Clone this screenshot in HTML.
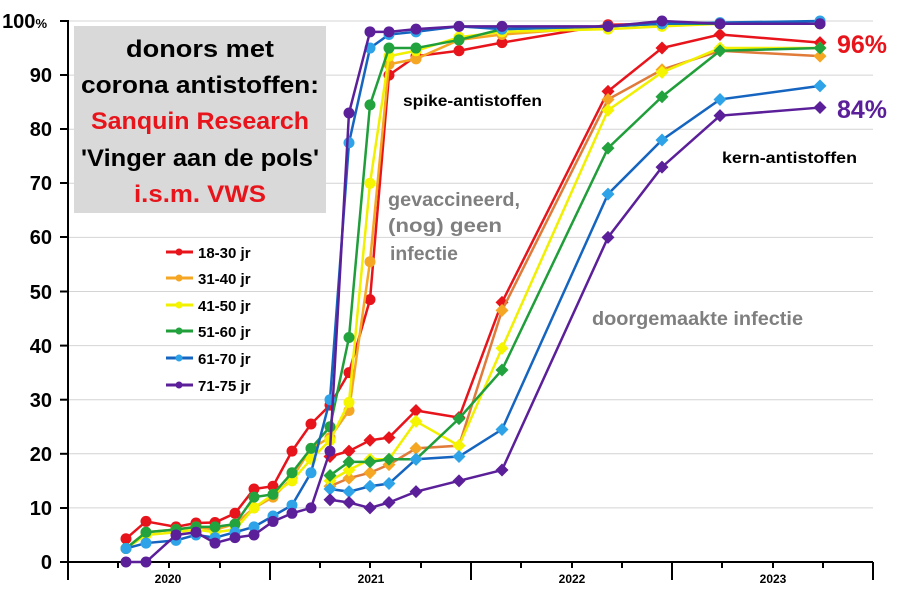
<!DOCTYPE html>
<html><head><meta charset="utf-8"><style>
body{margin:0;background:#fff}
svg{display:block;font-family:"Liberation Sans",sans-serif}
</style></head><body>
<svg id="s" width="908" height="592" viewBox="0 0 908 592" xmlns="http://www.w3.org/2000/svg">
<g stroke="#d4d4d4" stroke-width="1">
<line x1="68" x2="873" y1="21" y2="21"/><line x1="68" x2="873" y1="75.1" y2="75.1"/><line x1="68" x2="873" y1="129.2" y2="129.2"/><line x1="68" x2="873" y1="183.3" y2="183.3"/><line x1="68" x2="873" y1="237.4" y2="237.4"/><line x1="68" x2="873" y1="291.5" y2="291.5"/><line x1="68" x2="873" y1="345.6" y2="345.6"/><line x1="68" x2="873" y1="399.7" y2="399.7"/><line x1="68" x2="873" y1="453.8" y2="453.8"/><line x1="68" x2="873" y1="507.9" y2="507.9"/>
</g>
<rect x="74" y="26" width="252" height="187" fill="#d9d9d9"/>
<g font-weight="bold" font-size="24" text-anchor="middle">
<text x="200" y="57" textLength="148" lengthAdjust="spacingAndGlyphs">donors met</text>
<text x="200" y="93" textLength="238" lengthAdjust="spacingAndGlyphs">corona antistoffen:</text>
<text x="200" y="129" fill="#e8141b" textLength="218" lengthAdjust="spacingAndGlyphs">Sanquin Research</text>
<text x="200" y="166" textLength="238" lengthAdjust="spacingAndGlyphs">'Vinger aan de pols'</text>
<text x="200" y="202" fill="#e8141b" textLength="132" lengthAdjust="spacingAndGlyphs">i.s.m. VWS</text>
</g>
<g font-weight="bold" font-size="20" text-anchor="end">
<text x="47" y="28">100<tspan font-size="13">%</tspan></text>
<text x="52" y="82">90</text><text x="52" y="136">80</text><text x="52" y="190">70</text><text x="52" y="244">60</text><text x="52" y="299">50</text><text x="52" y="353">40</text><text x="52" y="407">30</text><text x="52" y="461">20</text><text x="52" y="515">10</text><text x="52" y="569">0</text>
</g>
<g stroke="#000" stroke-width="2">
<line x1="68" y1="20" x2="68" y2="580"/>
<line x1="60" y1="562" x2="873" y2="562"/>
<line x1="60" y1="21" x2="68" y2="21"/><line x1="60" y1="75" x2="68" y2="75"/><line x1="60" y1="129" x2="68" y2="129"/><line x1="60" y1="183" x2="68" y2="183"/><line x1="60" y1="237" x2="68" y2="237"/><line x1="60" y1="291.5" x2="68" y2="291.5"/><line x1="60" y1="345.6" x2="68" y2="345.6"/><line x1="60" y1="399.7" x2="68" y2="399.7"/><line x1="60" y1="453.8" x2="68" y2="453.8"/><line x1="60" y1="508" x2="68" y2="508"/>
<line x1="270" y1="562" x2="270" y2="580"/><line x1="471" y1="562" x2="471" y2="580"/><line x1="672" y1="562" x2="672" y2="580"/><line x1="873" y1="562" x2="873" y2="580"/>
<line x1="118" y1="562" x2="118" y2="568"/><line x1="169" y1="562" x2="169" y2="568"/><line x1="220" y1="562" x2="220" y2="568"/>
<line x1="320" y1="562" x2="320" y2="568"/><line x1="370" y1="562" x2="370" y2="568"/><line x1="421" y1="562" x2="421" y2="568"/>
<line x1="521" y1="562" x2="521" y2="568"/><line x1="572" y1="562" x2="572" y2="568"/><line x1="622" y1="562" x2="622" y2="568"/>
<line x1="722" y1="562" x2="722" y2="568"/><line x1="773" y1="562" x2="773" y2="568"/><line x1="823" y1="562" x2="823" y2="568"/>
</g>
<g font-weight="bold" font-size="12" text-anchor="middle">
<text x="168" y="583">2020</text><text x="371" y="583">2021</text><text x="572" y="583">2022</text><text x="773" y="583">2023</text>
</g>
<g id="series"></g>
<g font-weight="bold">
<text x="403" y="106" font-size="16" textLength="139" lengthAdjust="spacingAndGlyphs">spike-antistoffen</text>
<text x="722" y="163" font-size="16" textLength="135" lengthAdjust="spacingAndGlyphs">kern-antistoffen</text>
<text x="388" y="206" font-size="19" fill="#7f7f7f" textLength="132" lengthAdjust="spacingAndGlyphs">gevaccineerd,</text>
<text x="388" y="232" font-size="19" fill="#7f7f7f" textLength="114" lengthAdjust="spacingAndGlyphs">(nog) geen</text>
<text x="390" y="260" font-size="19" fill="#7f7f7f" textLength="68" lengthAdjust="spacingAndGlyphs">infectie</text>
<text x="592" y="325" font-size="19" fill="#7f7f7f" textLength="211" lengthAdjust="spacingAndGlyphs">doorgemaakte infectie</text>
<text x="837" y="53" font-size="25" fill="#e8141b">96%</text>
<text x="837" y="118" font-size="25" fill="#5b1f9a">84%</text>
</g>
<g font-weight="bold" font-size="15" id="leg">
<text x="198" y="258">18-30 jr</text><text x="198" y="284">31-40 jr</text><text x="198" y="311">41-50 jr</text><text x="198" y="337">51-60 jr</text><text x="198" y="364">61-70 jr</text><text x="198" y="391">71-75 jr</text>
</g>
</svg>
<script>
const Y=v=>562-5.41*v;
const xs=[126,146,176,196,215,235,254,273,292,311,330,349,370,389,416,459,502,608,662,720,820];
const xk=[330,349,370,389,416,459,502,608,662,720,820];
const S=[
{l:'#e8141b',m:'#e8141b',ml:'#e8141b',s:[4.3,7.5,6.5,7.2,7.3,9,13.5,14,20.5,25.5,29,35,48.5,90,93.5,94.5,96,99.3,99.5,99.5,99.5],k:[19.5,20.5,22.5,23,28,26.7,48,87,95,97.5,96]},
{l:'#f5a623',m:'#f5a623',ml:'#e07b39',s:[2.5,5.5,6,6.5,6,7,10,12,15.5,21,23,28,55.5,92,93,96.5,97.5,99,99.5,99.5,99.5],k:[14,15.5,16.5,18,21,21.5,46.5,85.5,91,94.5,93.5]},
{l:'#f0f000',m:'#f5f500',ml:'#f0f000',s:[2.5,5,5.5,6,5.5,6,10,12.5,15,19,22.5,29.5,70,93.5,94.5,97,98,98.5,99,99.5,99.5],k:[15,17,19,19,26,21.5,39.5,83.5,90.5,95,95]},
{l:'#1f9e3a',m:'#22a33e',ml:'#1f9e3a',s:[2.5,5.5,6,6.5,6.5,7,12,12.5,16.5,21,25,41.5,84.5,95,95,96.5,98.5,99,99.5,99.5,99.5],k:[16,18.5,18.5,19,19,26.5,35.5,76.5,86,94.5,95]},
{l:'#1565c0',m:'#2ea3e8',ml:'#1565c0',s:[2.5,3.5,4,5,4.5,5.5,6.5,8.5,10.5,16.5,30,77.5,95,97.5,98,99,98.5,99,99.5,99.7,100],k:[13.5,13,14,14.5,19,19.5,24.5,68,78,85.5,88]},
{l:'#5b1f9a',m:'#5b1f9a',ml:'#5b1f9a',s:[0,0,5,5.5,3.5,4.5,5,7.5,9,10,20.5,83,98,98,98.5,99,99,99,100,99.5,99.5],k:[11.5,11,10,11,13,15,17,60,73,82.5,84]}
];
const NS='http://www.w3.org/2000/svg';const g=document.getElementById('series');
function el(t,a){const e=document.createElementNS(NS,t);for(const k in a)e.setAttribute(k,a[k]);g.appendChild(e);return e;}
S.forEach(s=>{el('polyline',{points:xk.map((x,i)=>x+','+Y(s.k[i])).join(' '),fill:'none',stroke:s.ml,'stroke-width':2.5});
xk.forEach((x,i)=>{const y=Y(s.k[i]);el('polygon',{points:`${x},${y-6.5} ${x+6.5},${y} ${x},${y+6.5} ${x-6.5},${y}`,fill:s.m});});});
S.forEach(s=>{el('polyline',{points:xs.map((x,i)=>x+','+Y(s.s[i])).join(' '),fill:'none',stroke:s.l,'stroke-width':2.5});
xs.forEach((x,i)=>el('circle',{cx:x,cy:Y(s.s[i]),r:5.5,fill:s.m}));});
const ly=[252,278,305,331,358,385];
S.forEach((s,i)=>{el('line',{x1:166,x2:193,y1:ly[i],y2:ly[i],stroke:s.l,'stroke-width':3});el('circle',{cx:179,cy:ly[i],r:3.5,fill:s.m});});
</script>
</body></html>
